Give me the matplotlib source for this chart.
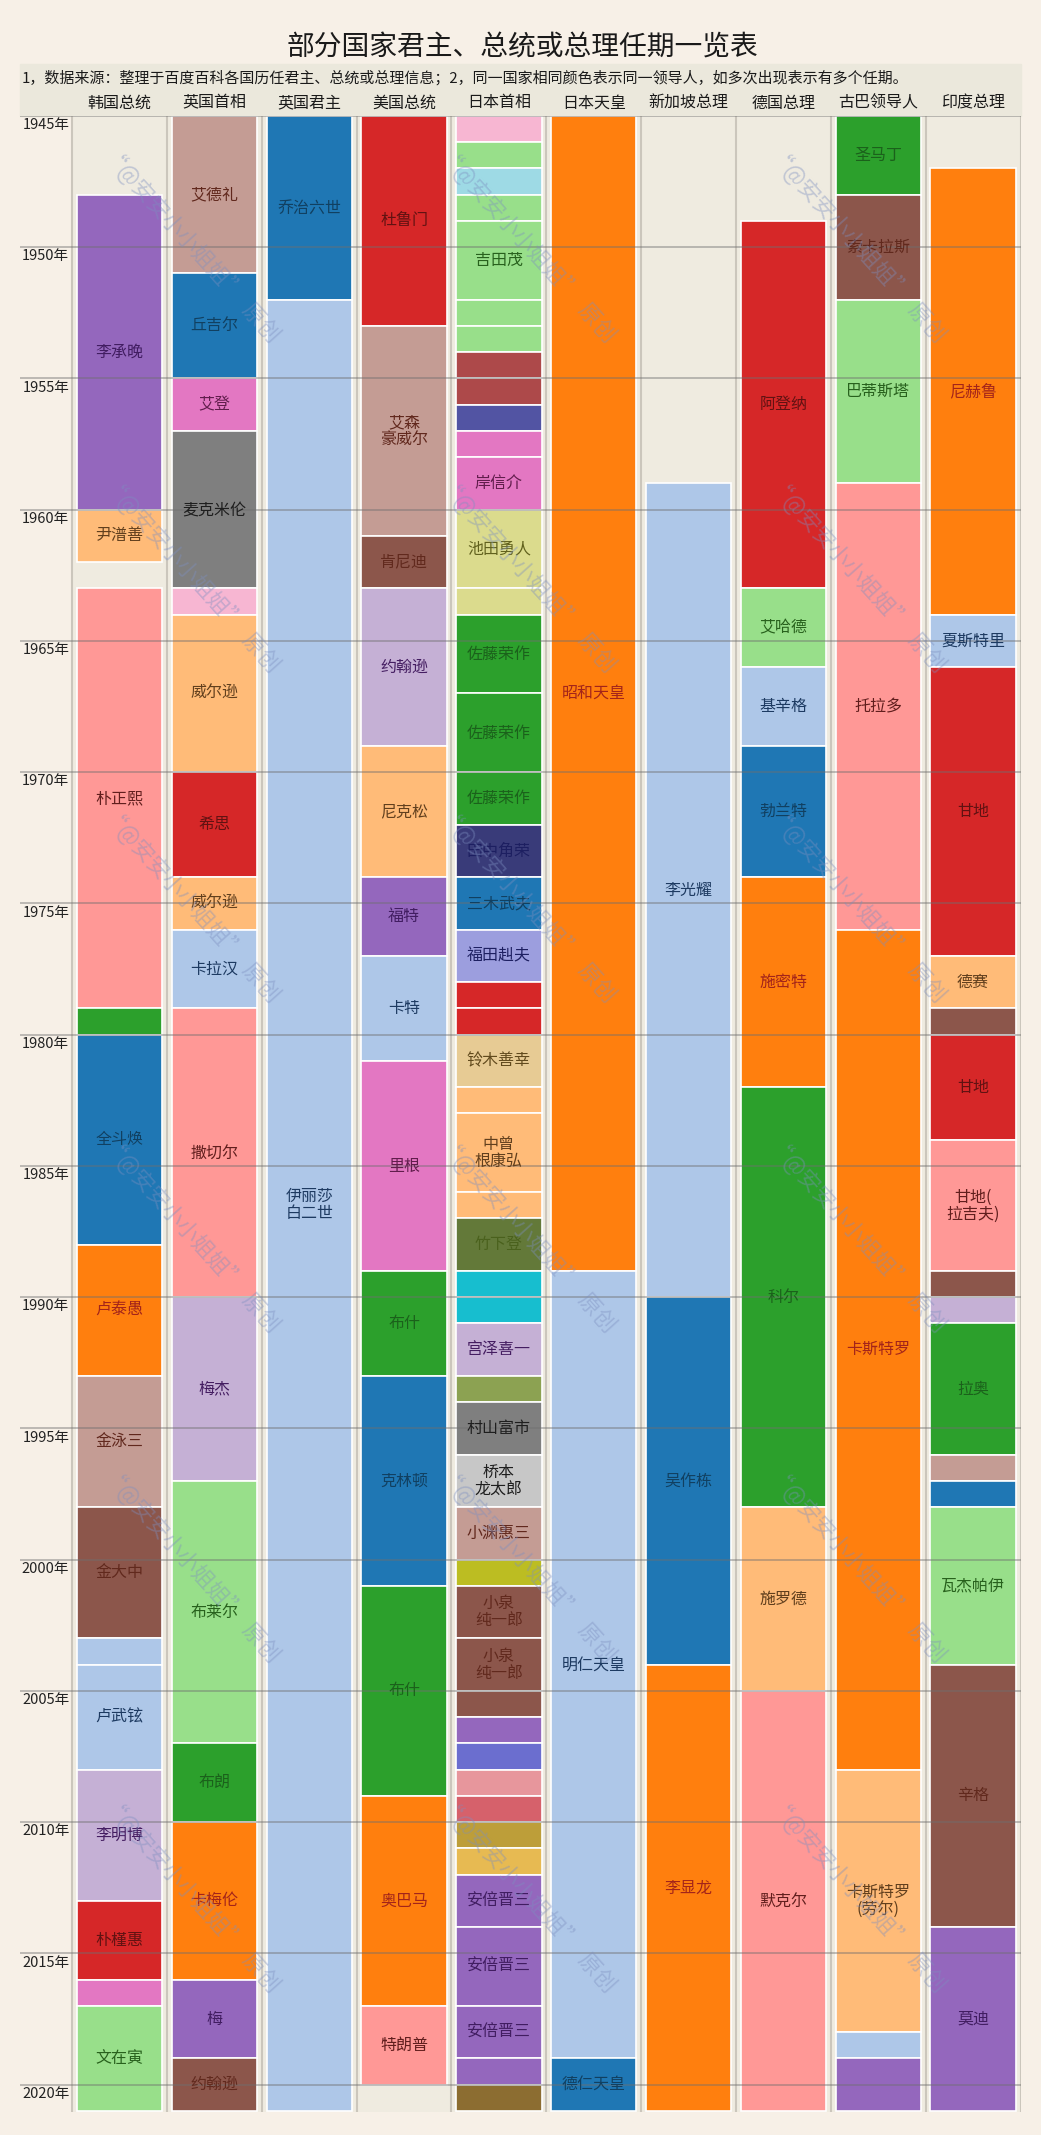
import colorsys
import matplotlib
matplotlib.use("Agg")
import matplotlib.pyplot as plt
import matplotlib.colors as mcolors
from matplotlib.patches import Rectangle

plt.rcParams['font.family'] = ['Noto Sans CJK SC', 'DejaVu Sans']

TITLE = "部分国家君主、总统或总理任期一览表"
NOTE = ("1，数据来源：整理于百度百科各国历任君主、总统或总理信息；"
        "2，同一国家相同颜色表示同一领导人，如多次出现表示有多个任期。")
WATERMARK = "“@安安小小姐姐”  原创"

COLUMNS = ["韩国总统", "英国首相", "英国君主", "美国总统", "日本首相",
           "日本天皇", "新加坡总理", "德国总理", "古巴领导人", "印度总理"]
YEARS = list(range(1945, 2021, 5))

# (start, end, leader, label shown)
KOREA = [
    (1948, 1960, "李承晚", 1), (1960, 1962, "尹潽善", 1), (1963, 1979, "朴正熙", 1),
    (1979, 1980, "崔圭夏", 0), (1980, 1988, "全斗焕", 1), (1988, 1993, "卢泰愚", 1),
    (1993, 1998, "金泳三", 1), (1998, 2003, "金大中", 1), (2003, 2004, "卢武铉", 0),
    (2004, 2008, "卢武铉", 1), (2008, 2013, "李明博", 1), (2013, 2016, "朴槿惠", 1),
    (2016, 2017, "黄教安", 0), (2017, 2021, "文在寅", 1),
]
UK_PM = [
    (1945, 1951, "艾德礼", 1), (1951, 1955, "丘吉尔", 1), (1955, 1957, "艾登", 1),
    (1957, 1963, "麦克米伦", 1), (1963, 1964, "霍姆", 0), (1964, 1970, "威尔逊", 1),
    (1970, 1974, "希思", 1), (1974, 1976, "威尔逊", 1), (1976, 1979, "卡拉汉", 1),
    (1979, 1990, "撒切尔", 1), (1990, 1997, "梅杰", 1), (1997, 2007, "布莱尔", 1),
    (2007, 2010, "布朗", 1), (2010, 2016, "卡梅伦", 1), (2016, 2019, "梅", 1),
    (2019, 2021, "约翰逊", 1),
]
UK_KING = [(1945, 1952, "乔治六世", 1), (1952, 2021, "伊丽莎白二世", 1)]
US = [
    (1945, 1953, "杜鲁门", 1), (1953, 1961, "艾森豪威尔", 1), (1961, 1963, "肯尼迪", 1),
    (1963, 1969, "约翰逊", 1), (1969, 1974, "尼克松", 1), (1974, 1977, "福特", 1),
    (1977, 1981, "卡特", 1), (1981, 1989, "里根", 1), (1989, 1993, "布什", 1),
    (1993, 2001, "克林顿", 1), (2001, 2009, "布什", 1), (2009, 2017, "奥巴马", 1),
    (2017, 2020, "特朗普", 1),
]
JP_PM = [
    (1945, 1946, "币原喜重郎", 0), (1946, 1947, "吉田茂", 0), (1947, 1948, "片山哲", 0),
    (1948, 1949, "吉田茂", 0), (1949, 1952, "吉田茂", 1), (1952, 1953, "吉田茂", 0),
    (1953, 1954, "吉田茂", 0), (1954, 1955, "鸠山一郎", 0), (1955, 1956, "鸠山一郎", 0),
    (1956, 1957, "石桥湛山", 0), (1957, 1958, "岸信介", 0), (1958, 1960, "岸信介", 1),
    (1960, 1963, "池田勇人", 1), (1963, 1964, "池田勇人", 0), (1964, 1967, "佐藤荣作", 1),
    (1967, 1970, "佐藤荣作", 1), (1970, 1972, "佐藤荣作", 1), (1972, 1974, "田中角荣", 1),
    (1974, 1976, "三木武夫", 1), (1976, 1978, "福田赳夫", 1), (1978, 1979, "大平正芳", 0),
    (1979, 1980, "大平正芳", 0), (1980, 1982, "铃木善幸", 1), (1982, 1983, "中曾根康弘", 0),
    (1983, 1986, "中曾根康弘", 1), (1986, 1987, "中曾根康弘", 0), (1987, 1989, "竹下登", 1),
    (1989, 1990, "海部俊树", 0), (1990, 1991, "海部俊树", 0), (1991, 1993, "宫泽喜一", 1),
    (1993, 1994, "细川护熙", 0), (1994, 1996, "村山富市", 1), (1996, 1998, "桥本龙太郎", 1),
    (1998, 2000, "小渊惠三", 1), (2000, 2001, "森喜朗", 0), (2001, 2003, "小泉纯一郎", 1),
    (2003, 2005, "小泉纯一郎", 1), (2005, 2006, "小泉纯一郎", 0), (2006, 2007, "安倍晋三", 0),
    (2007, 2008, "福田康夫", 0), (2008, 2009, "麻生太郎", 0), (2009, 2010, "鸠山由纪夫", 0),
    (2010, 2011, "菅直人", 0), (2011, 2012, "野田佳彦", 0), (2012, 2014, "安倍晋三", 1),
    (2014, 2017, "安倍晋三", 1), (2017, 2019, "安倍晋三", 1), (2019, 2020, "安倍晋三", 0),
    (2020, 2021, "菅义伟", 0),
]
JP_EMP = [(1945, 1989, "昭和天皇", 1), (1989, 2019, "明仁天皇", 1), (2019, 2021, "德仁天皇", 1)]
SG = [(1959, 1990, "李光耀", 1), (1990, 2004, "吴作栋", 1), (2004, 2021, "李显龙", 1)]
DE = [
    (1949, 1963, "阿登纳", 1), (1963, 1966, "艾哈德", 1), (1966, 1969, "基辛格", 1),
    (1969, 1974, "勃兰特", 1), (1974, 1982, "施密特", 1), (1982, 1998, "科尔", 1),
    (1998, 2005, "施罗德", 1), (2005, 2021, "默克尔", 1),
]
CU = [
    (1945, 1948, "圣马丁", 1), (1948, 1952, "索卡拉斯", 1), (1952, 1959, "巴蒂斯塔", 1),
    (1959, 1976, "托拉多", 1), (1976, 2008, "卡斯特罗", 1), (2008, 2018, "卡斯特罗(劳尔)", 1),
    (2018, 2019, "卡内尔", 0), (2019, 2021, "迪亚斯-卡内尔", 0),
]
IN = [
    (1947, 1964, "尼赫鲁", 1), (1964, 1966, "夏斯特里", 1), (1966, 1977, "甘地", 1),
    (1977, 1979, "德赛", 1), (1979, 1980, "辛格", 0), (1980, 1984, "甘地", 1),
    (1984, 1989, "甘地(拉吉夫)", 1), (1989, 1990, "辛格", 0), (1990, 1991, "谢卡尔", 0),
    (1991, 1996, "拉奥", 1), (1996, 1997, "高达", 0), (1997, 1998, "古杰拉尔", 0),
    (1998, 2004, "瓦杰帕伊", 1), (2004, 2014, "辛格", 1), (2014, 2021, "莫迪", 1),
]

# colours (tab20 / tab20b)
P = {
    "blue": "#1f77b4", "lblue": "#aec7e8", "orange": "#ff7f0e", "lorange": "#ffbb78",
    "green": "#2ca02c", "lgreen": "#98df8a", "red": "#d62728", "lred": "#ff9896",
    "purple": "#9467bd", "lpurple": "#c5b0d5", "brown": "#8c564b", "lbrown": "#c49c94",
    "pink": "#e377c2", "lpink": "#f7b6d2", "gray": "#7f7f7f", "lgray": "#c7c7c7",
    "olive": "#bcbd22", "lolive": "#dbdb8d", "cyan": "#17becf", "lcyan": "#9edae5",
    "navy": "#393b79", "indigo": "#5254a3", "violet": "#6b6ecf", "lindigo": "#9c9ede",
    "moss": "#637939", "grass": "#8ca252", "ochre": "#8c6d31", "mustard": "#bd9e39",
    "gold": "#e7ba52", "tan": "#e7cb94", "brick": "#ad494a", "rose": "#d6616b",
    "lrose": "#e7969c",
}
COLORS = [
    {"李承晚": "purple", "尹潽善": "lorange", "朴正熙": "lred", "崔圭夏": "green",
     "全斗焕": "blue", "卢泰愚": "orange", "金泳三": "lbrown", "金大中": "brown",
     "卢武铉": "lblue", "李明博": "lpurple", "朴槿惠": "red", "黄教安": "pink",
     "文在寅": "lgreen"},
    {"艾德礼": "lbrown", "丘吉尔": "blue", "艾登": "pink", "麦克米伦": "gray",
     "霍姆": "lpink", "威尔逊": "lorange", "希思": "red", "卡拉汉": "lblue",
     "撒切尔": "lred", "梅杰": "lpurple", "布莱尔": "lgreen", "布朗": "green",
     "卡梅伦": "orange", "梅": "purple", "约翰逊": "brown"},
    {"乔治六世": "blue", "伊丽莎白二世": "lblue"},
    {"杜鲁门": "red", "艾森豪威尔": "lbrown", "肯尼迪": "brown", "约翰逊": "lpurple",
     "尼克松": "lorange", "福特": "purple", "卡特": "lblue", "里根": "pink",
     "布什": "green", "克林顿": "blue", "奥巴马": "orange", "特朗普": "lred"},
    {"币原喜重郎": "lpink", "吉田茂": "lgreen", "片山哲": "lcyan", "鸠山一郎": "brick",
     "石桥湛山": "indigo", "岸信介": "pink", "池田勇人": "lolive", "佐藤荣作": "green",
     "田中角荣": "navy", "三木武夫": "blue", "福田赳夫": "lindigo", "大平正芳": "red",
     "铃木善幸": "tan", "中曾根康弘": "lorange", "竹下登": "moss", "海部俊树": "cyan",
     "宫泽喜一": "lpurple", "细川护熙": "grass", "村山富市": "gray", "桥本龙太郎": "lgray",
     "小渊惠三": "lbrown", "森喜朗": "olive", "小泉纯一郎": "brown", "安倍晋三": "purple",
     "福田康夫": "violet", "麻生太郎": "lrose", "鸠山由纪夫": "rose", "菅直人": "mustard",
     "野田佳彦": "gold", "菅义伟": "ochre"},
    {"昭和天皇": "orange", "明仁天皇": "lblue", "德仁天皇": "blue"},
    {"李光耀": "lblue", "吴作栋": "blue", "李显龙": "orange"},
    {"阿登纳": "red", "艾哈德": "lgreen", "基辛格": "lblue", "勃兰特": "blue",
     "施密特": "orange", "科尔": "green", "施罗德": "lorange", "默克尔": "lred"},
    {"圣马丁": "green", "索卡拉斯": "brown", "巴蒂斯塔": "lgreen", "托拉多": "lred",
     "卡斯特罗": "orange", "卡斯特罗(劳尔)": "lorange", "卡内尔": "lblue",
     "迪亚斯-卡内尔": "purple"},
    {"尼赫鲁": "orange", "夏斯特里": "lblue", "甘地": "red", "德赛": "lorange",
     "辛格": "brown", "甘地(拉吉夫)": "lred", "谢卡尔": "lpurple", "拉奥": "green",
     "高达": "lbrown", "古杰拉尔": "blue", "瓦杰帕伊": "lgreen", "莫迪": "purple"},
]
WRAP = {"艾森豪威尔": "艾森\n豪威尔", "中曾根康弘": "中曾\n根康弘", "桥本龙太郎": "桥本\n龙太郎",
        "小泉纯一郎": "小泉\n纯一郎", "伊丽莎白二世": "伊丽莎\n白二世",
        "甘地(拉吉夫)": "甘地(\n拉吉夫)", "卡斯特罗(劳尔)": "卡斯特罗\n(劳尔)"}

SEGMENTS = [KOREA, UK_PM, UK_KING, US, JP_PM, JP_EMP, SG, DE, CU, IN]


def label_color(key):
    if key == "orange":
        return "#a3241a"
    r, g, b = mcolors.to_rgb(P[key])
    h, s, v = colorsys.rgb_to_hsv(r, g, b)
    if s < 0.05:
        return "#1e1e1e"
    return colorsys.hsv_to_rgb(h, max(s, 0.7), 0.38)


W, H = 1041, 2135
fig = plt.figure(figsize=(W / 100, H / 100), dpi=100, facecolor="#f7f0e7")
ax = fig.add_axes([20 / W, 23 / H, 1000.5 / W, 1996 / H])
ax.set_xlim(-1.05, 9.5)
ax.set_ylim(2021.04, 1945)
ax.axis("off")

# header band
fig.add_artist(Rectangle((20 / W, 1 - 116 / H), 1000.5 / W, 52 / H,
                         transform=fig.transFigure, color="#ebe8dc", zorder=0))

ax.add_patch(Rectangle((-0.5, 1945), 10, 76.04, color="#efebe0", zorder=0))
for i in range(11):
    ax.axvline(i - 0.5, color="#cbc6bc", lw=1.5, zorder=1)

for i, segs in enumerate(SEGMENTS):
    cmap = COLORS[i]
    for start, end, who, shown in segs:
        ax.bar(i, end - start, bottom=start, width=0.9, color=P[cmap[who]],
               edgecolor="white", linewidth=1.2, zorder=2)
        if shown:
            ax.text(i, (start + end) / 2, WRAP.get(who, who), ha="center", va="center",
                    fontsize=11.5, fontweight="medium", color=label_color(cmap[who]),
                    linespacing=1.0, zorder=5)
    ax.text(i, 1944.5, COLUMNS[i], ha="center", va="center", fontsize=11.5,
            fontweight="medium", color="#1a1a1a", clip_on=False)

for y in YEARS:
    ax.axhline(y, color="#6f6f6f", alpha=0.55, lw=1.1, zorder=3)
    ax.text(-0.53, y + 0.08, f"{y}年", ha="right", va="top", fontsize=10.5,
            color="#222222", zorder=4)

fig.text(522 / W, 1 - 48 / H, TITLE, ha="center", va="center", fontsize=20,
         fontweight="medium", color="#1a1a1a")
fig.text(22 / W, 1 - 78 / H, NOTE, ha="left", va="center", fontsize=10.8, color="#1a1a1a")

# watermark
for x0 in [107, 443, 773]:
    for y0 in [150, 480, 810, 1140, 1470, 1800]:
        fig.text(x0 / W, 1 - y0 / H, WATERMARK, rotation=-48, rotation_mode="anchor",
                 ha="left", va="center", fontsize=16, color="#7d8fc0", alpha=0.4, zorder=10)

fig.savefig("out.png", dpi=100, facecolor=fig.get_facecolor())
